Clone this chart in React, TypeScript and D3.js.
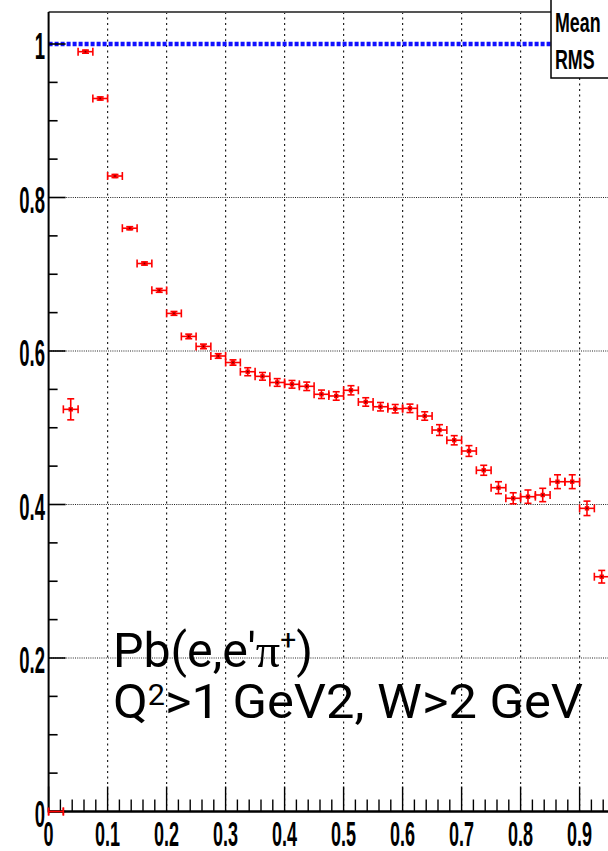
import React from 'react';
import * as d3 from 'd3';

// bin centres (x), ratio values and their vertical errors
const binCenters = [
  0.0125, 0.0375, 0.0625, 0.0875, 0.1125, 0.1375, 0.1625, 0.1875, 0.2125, 0.2375,
  0.2625, 0.2875, 0.3125, 0.3375, 0.3625, 0.3875, 0.4125, 0.4375, 0.4625, 0.4875,
  0.5125, 0.5375, 0.5625, 0.5875, 0.6125, 0.6375, 0.6625, 0.6875, 0.7125, 0.7375,
  0.7625, 0.7875, 0.8125, 0.8375, 0.8625, 0.8875, 0.9125, 0.9375,
];
const ratioValues = [
  0.0, 0.524, 0.990, 0.929, 0.828, 0.760, 0.714, 0.679, 0.649, 0.619,
  0.606, 0.5935, 0.585, 0.573, 0.567, 0.559, 0.5566, 0.554, 0.5436, 0.5414,
  0.5488, 0.5336, 0.5274, 0.5248, 0.5253, 0.5153, 0.497, 0.4837, 0.4697, 0.4446,
  0.4219, 0.4081, 0.4102, 0.4124, 0.4297, 0.4297, 0.395, 0.3059,
];
const ratioErrors = [
  0.0, 0.0137, 0.002, 0.002, 0.002, 0.002, 0.002, 0.0025, 0.0025, 0.003,
  0.003, 0.003, 0.0035, 0.0052, 0.005, 0.005, 0.005, 0.0055, 0.0055, 0.0055,
  0.006, 0.0055, 0.0055, 0.0055, 0.0055, 0.0055, 0.007, 0.006, 0.007, 0.0065,
  0.0078, 0.0072, 0.0087, 0.0087, 0.009, 0.009, 0.0094, 0.0082,
];
const binHalfWidth = 0.0125;
const referenceLevel = 1;

const xTickValues = [0, 0.1, 0.2, 0.3, 0.4, 0.5, 0.6, 0.7, 0.8, 0.9];
const xTickLabels = ['0', '0.1', '0.2', '0.3', '0.4', '0.5', '0.6', '0.7', '0.8', '0.9'];
const yTickValues = [0, 0.2, 0.4, 0.6, 0.8, 1];
const yTickLabels = ['0', '0.2', '0.4', '0.6', '0.8', '1'];
const statsLabels = ['Mean', 'RMS'];

const W = 608;
const H = 851;

export default function App() {
  const x = d3.scaleLinear().domain([0, 1]).range([48.6, 638.6]);
  const y = d3.scaleLinear().domain([0, 1.0417]).range([811.5, 12]);

  const xMinor = d3.range(0, 1.0001, 0.02).filter(v => Math.abs(v * 10 - Math.round(v * 10)) > 1e-6);
  const yMinor = d3.range(0, 1.04, 0.05).filter(v => Math.abs(v * 5 - Math.round(v * 5)) > 1e-6);

  const red = '#ff0000';
  const cap = 4;
  const labelFont = "'Liberation Sans', Arial, Helvetica, sans-serif";

  return (
    <svg width={W} height={H} viewBox={`0 0 ${W} ${H}`}
      style={{ position: 'absolute', left: 0, top: 0, background: '#fff', display: 'block' }}>
      <rect x={0} y={0} width={W} height={H} fill="#fff" />
      {/* vertical grid */}
      {xTickValues.filter(v => v > 0).map((v, i) => (
        <line key={'gx' + i} x1={x(v)} x2={x(v)} y1={y(1.0417)} y2={y(0)}
          stroke="#222" strokeWidth={1.2} strokeDasharray="2,3.5" />
      ))}
      {/* horizontal grid */}
      {yTickValues.filter(v => v > 0 && v < 1).map((v, i) => (
        <line key={'gy' + i} x1={x(0)} x2={W} y1={y(v)} y2={y(v)}
          stroke="#222" strokeWidth={1.2} strokeDasharray="1,1.2" />
      ))}
      {/* reference line at 1 */}
      <line x1={x(0)} x2={W} y1={y(referenceLevel)} y2={y(referenceLevel)}
        stroke="#1010ff" strokeWidth={4.5} strokeDasharray="4,2" />

      {/* data */}
      {binCenters.map((c, i) => {
        const cx = x(c);
        const cy = y(ratioValues[i]);
        const xl = x(c - binHalfWidth);
        const xr = x(c + binHalfWidth);
        const yt = y(ratioValues[i] + ratioErrors[i]);
        const yb = y(ratioValues[i] - ratioErrors[i]);
        return (
          <g key={'p' + i} stroke={red} strokeWidth={1.6} fill="none">
            <line x1={xl} x2={xr} y1={cy} y2={cy} />
            <line x1={xl} x2={xl} y1={cy - cap} y2={cy + cap} />
            <line x1={xr} x2={xr} y1={cy - cap} y2={cy + cap} />
            {ratioErrors[i] > 0 && (
              <>
                <line x1={cx} x2={cx} y1={yt} y2={yb} />
                <line x1={cx - 3.5} x2={cx + 3.5} y1={yt} y2={yt} />
                <line x1={cx - 3.5} x2={cx + 3.5} y1={yb} y2={yb} />
                <rect x={cx - 2.2} y={cy - 2.2} width={4.4} height={4.4} fill={red} stroke="none" />
                <rect x={cx - 0.8} y={cy - 0.8} width={1.6} height={1.6} fill="#700" stroke="none" />
              </>
            )}
          </g>
        );
      })}

      {/* frame top */}
      <line x1={x(0)} x2={551} y1={y(1.0417)} y2={y(1.0417)} stroke="#555" strokeWidth={2} />

      {/* y axis */}
      <line x1={x(0)} x2={x(0)} y1={y(1.0417)} y2={y(0) + 1} stroke="#000" strokeWidth={2} />
      {yTickValues.map((v, i) => (
        <line key={'ytk' + i} x1={x(0)} x2={x(0) + 17} y1={y(v)} y2={y(v)} stroke="#000" strokeWidth={1.6} />
      ))}
      {yMinor.map((v, i) => (
        <line key={'ytm' + i} x1={x(0)} x2={x(0) + 9} y1={y(v)} y2={y(v)} stroke="#000" strokeWidth={1.6} />
      ))}
      {yTickLabels.map((t, i) => (
        <text key={'ytl' + i} transform={`translate(45,${y(yTickValues[i]) + 15}) scale(0.5,1)`}
          textAnchor="end" fontFamily={labelFont} fontWeight="bold" fontSize={37} fill="#000">{t}</text>
      ))}

      {/* x axis */}
      <line x1={x(0)} x2={W} y1={y(0)} y2={y(0)} stroke="#000" strokeWidth={2.5} />
      {xTickValues.map((v, i) => (
        <line key={'xtk' + i} x1={x(v)} x2={x(v)} y1={y(0)} y2={y(0) - 25} stroke="#000" strokeWidth={1.4} />
      ))}
      {xMinor.map((v, i) => (
        <line key={'xtm' + i} x1={x(v)} x2={x(v)} y1={y(0)} y2={y(0) - 12} stroke="#000" strokeWidth={1.4} />
      ))}
      {/* first bin lies on the axis */}
      <g stroke={red} strokeWidth={1.6}>
        <line x1={x(binCenters[0] - binHalfWidth)} x2={x(binCenters[0] + binHalfWidth)} y1={y(ratioValues[0])} y2={y(ratioValues[0])} />
        <line x1={x(binCenters[0] - binHalfWidth)} x2={x(binCenters[0] - binHalfWidth)} y1={y(ratioValues[0]) - cap} y2={y(ratioValues[0]) + cap} />
        <line x1={x(binCenters[0] + binHalfWidth)} x2={x(binCenters[0] + binHalfWidth)} y1={y(ratioValues[0]) - cap} y2={y(ratioValues[0]) + cap} />
      </g>
      {xTickLabels.map((t, i) => (
        <text key={'xtl' + i} transform={`translate(${x(xTickValues[i])},846) scale(0.5,1)`}
          textAnchor="middle" fontFamily={labelFont} fontWeight="bold" fontSize={36} fill="#000">{t}</text>
      ))}

      {/* stats box */}
      <rect x={551} y={-5} width={70} height={83} fill="#fff" stroke="#000" strokeWidth={1.5} />
      {statsLabels.map((t, i) => (
        <text key={'st' + i} transform={`translate(555,${i === 0 ? 32 : 69}) scale(0.66,1)`}
          fontFamily={labelFont} fontWeight="bold" fontSize={27} fill="#000">{t}</text>
      ))}

      {/* annotation */}
      <text x={113} y={667} fontFamily="Roboto, 'Open Sans', sans-serif" fontSize={48} fill="#000"
        textLength={200} lengthAdjust="spacingAndGlyphs">
        Pb(e,e′<tspan fontFamily="'Liberation Serif', serif">π</tspan><tspan fontSize={28} dy={-18}>+</tspan><tspan dy={18}>)</tspan>
      </text>
      <text x={113} y={718} fontFamily="Roboto, 'Open Sans', sans-serif" fontSize={48} fill="#000"
        textLength={470} lengthAdjust="spacingAndGlyphs">
        Q<tspan fontSize={29} dy={-13}>2</tspan><tspan dy={13}>&gt;1 GeV2, W&gt;2 GeV</tspan>
      </text>
    </svg>
  );
}
